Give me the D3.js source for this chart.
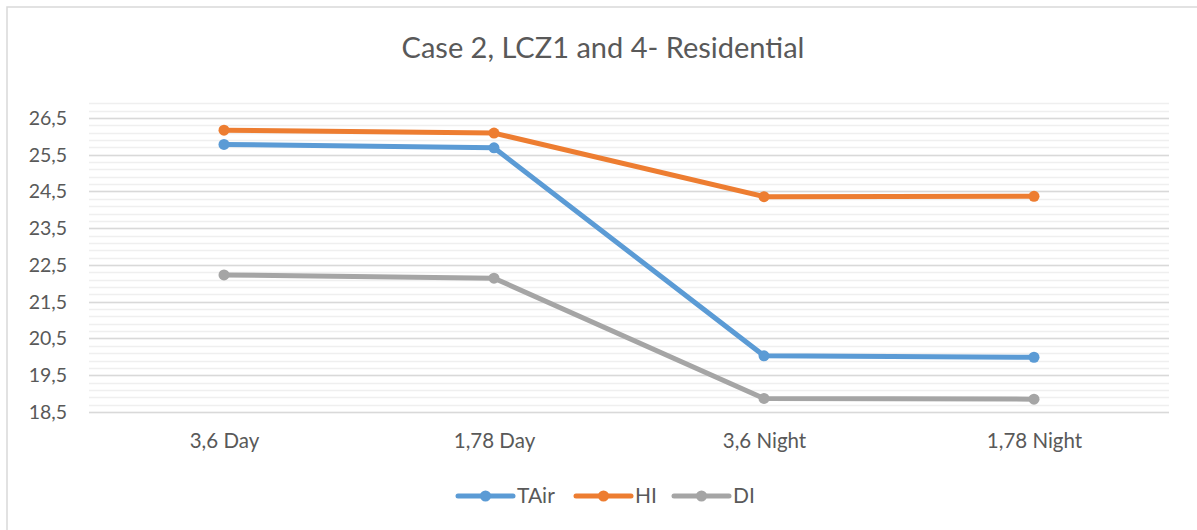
<!DOCTYPE html>
<html>
<head>
<meta charset="utf-8">
<script src="https://cdn.jsdelivr.net/npm/d3@7"></script>
<style>
  html, body { margin: 0; padding: 0; background: #fff; }
  svg { display: block; }
  text { font-family: Lato, "Open Sans", sans-serif; fill: #595959; }
</style>
</head>
<body>
<svg id="chart" width="1197" height="530"></svg>
<script>
// Categories along the x axis
const categories = ["3,6 Day", "1,78 Day", "3,6 Night", "1,78 Night"];

// Series values
const tairValues = [25.78, 25.69, 20.03, 19.99];
const hiValues   = [26.17, 26.09, 24.36, 24.37];
const diValues   = [22.23, 22.14, 18.87, 18.85];

const seriesNames = ["TAir", "HI", "DI"];

// Y axis labels (decimal comma) and range
const yTickValues = [18.5, 19.5, 20.5, 21.5, 22.5, 23.5, 24.5, 25.5, 26.5];
const yTickLabels = ["18,5", "19,5", "20,5", "21,5", "22,5", "23,5", "24,5", "25,5", "26,5"];
const yMin = 18.5, yMax = 26.9, minorStep = 0.2;

const title = "Case 2, LCZ1 and 4- Residential";

const colors = ["#5B9BD5", "#ED7D31", "#A5A5A5"];
const series = [tairValues, hiValues, diValues].map((v, i) => ({ name: seriesNames[i], values: v, color: colors[i] }));

const svg = d3.select("#chart");

// Outer chart frame
svg.append("rect")
  .attr("x", 7).attr("y", 7).attr("width", 1200).attr("height", 540)
  .attr("fill", "#fff").attr("stroke", "#D9D9D9").attr("stroke-width", 1.5);

const plot = { left: 89, right: 1169, top: 103.3, bottom: 412 };

const x = d3.scalePoint().domain(categories).range([plot.left, plot.right]).padding(0.5);
const y = d3.scaleLinear().domain([yMin, yMax]).range([plot.bottom, plot.top]);

// Minor gridlines
const minorCount = Math.round((yMax - yMin) / minorStep);
const minorVals = d3.range(minorCount + 1).map(i => +(yMin + i * minorStep).toFixed(2));
svg.append("g").selectAll("line").data(minorVals).join("line")
  .attr("x1", plot.left).attr("x2", plot.right)
  .attr("y1", d => Math.round(y(d)) + 0.5).attr("y2", d => Math.round(y(d)) + 0.5)
  .attr("stroke", "#EFEFEF").attr("stroke-width", 1.5);

// Major gridlines
svg.append("g").selectAll("line").data(yTickValues).join("line")
  .attr("x1", plot.left).attr("x2", plot.right)
  .attr("y1", d => Math.round(y(d)) + 0.5).attr("y2", d => Math.round(y(d)) + 0.5)
  .attr("stroke", "#D9D9D9").attr("stroke-width", 1.5);

// Y axis labels
const yAxis = d3.axisLeft(y).tickValues(yTickValues).tickSize(0).tickPadding(0)
  .tickFormat((d, i) => yTickLabels[i]);
const yG = svg.append("g").attr("transform", `translate(67,0)`).call(yAxis);
yG.select(".domain").remove();
yG.selectAll("text").style("font-size", "19.5px").style("font-family", "Lato, 'Open Sans', sans-serif").attr("fill", "#595959");

// X axis labels
const xAxis = d3.axisBottom(x).tickSize(0).tickPadding(0);
const xG = svg.append("g").attr("transform", `translate(0,433)`).call(xAxis);
xG.select(".domain").remove();
xG.selectAll("text").style("font-size", "20.5px").style("font-family", "Lato, 'Open Sans', sans-serif").attr("fill", "#595959");

// Series lines and markers
const line = d3.line().x((d, i) => x(categories[i])).y(d => y(d));
const sg = svg.append("g").selectAll("g").data(series).join("g");
sg.append("path")
  .attr("d", d => line(d.values))
  .attr("fill", "none").attr("stroke", d => d.color)
  .attr("stroke-width", 5).attr("stroke-linejoin", "round").attr("stroke-linecap", "round");
sg.selectAll("circle").data(d => d.values.map((v, i) => ({ v, i, color: d.color }))).join("circle")
  .attr("cx", d => x(categories[d.i])).attr("cy", d => y(d.v))
  .attr("r", 5.5).attr("fill", d => d.color);

// Title
svg.append("text")
  .attr("x", 603).attr("y", 58)
  .attr("text-anchor", "middle")
  .style("font-size", "29px")
  .text(title);

// Legend
const legendX = [458, 576, 674];
const lg = svg.append("g").selectAll("g").data(series).join("g")
  .attr("transform", (d, i) => `translate(${legendX[i]},496)`);
lg.append("line").attr("x1", 0).attr("x2", 55).attr("y1", 0).attr("y2", 0)
  .attr("stroke", d => d.color).attr("stroke-width", 5).attr("stroke-linecap", "round");
lg.append("circle").attr("cx", 27.5).attr("cy", 0).attr("r", 5.5).attr("fill", d => d.color);
lg.append("text").attr("x", 59).attr("y", 7).style("font-size", "21px").text(d => d.name);
</script>
</body>
</html>
